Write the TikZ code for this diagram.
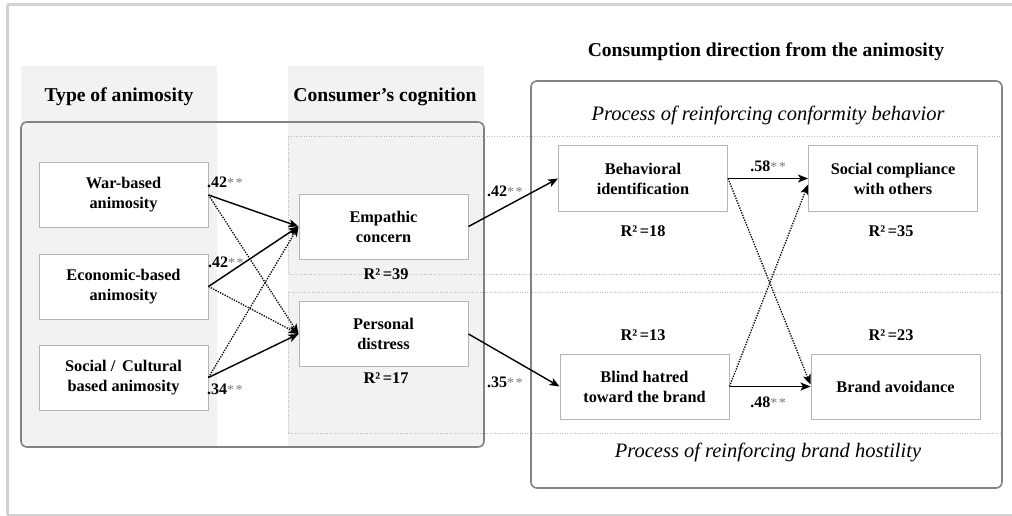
\documentclass[tikz,border=0pt]{standalone}
\usepackage{fontspec}
\setmainfont{Liberation Serif}
\usetikzlibrary{arrows.meta}
\definecolor{colbg}{HTML}{F2F2F2}
\definecolor{framegray}{HTML}{D2D2D2}
\definecolor{boxline}{HTML}{B4B4B4}
\definecolor{roundline}{HTML}{828282}
\definecolor{dotline}{HTML}{BBBBBB}
\definecolor{stargray}{HTML}{7A7A7A}
\newcommand\cf[1]{#1{\color{stargray}\mdseries\fontsize{14}{14}\selectfont *\kern1.5pt*}}
\begin{document}
\begin{tikzpicture}[x=1pt,y=-1pt,
  box/.style={draw=boxline, line width=1pt, fill=white, minimum width=169pt, minimum height=65pt,
    inner sep=0pt, align=center, font=\fontsize{16.3}{20}\selectfont\bfseries},
  ttl/.style={font=\fontsize{19.6}{22}\selectfont\bfseries, inner sep=0pt},
  proc/.style={font=\fontsize{20.5}{22}\selectfont\itshape, inner sep=0pt},
  rsq/.style={font=\fontsize{16.3}{19}\selectfont\bfseries, inner sep=0pt},
  coef/.style={font=\fontsize{16}{18}\selectfont\bfseries, inner sep=0pt},
  solidarr/.style={-{Stealth[length=10pt,width=8pt,inset=2.5pt]}, line width=1.4pt, black},
  dotarr/.style={-{Stealth[length=10pt,width=8pt,inset=2.5pt]}, line width=1.3pt, black, dash pattern=on 1.3pt off 1.3pt},
  dotrect/.style={draw=dotline, line width=1pt, dash pattern=on 1pt off 1.5pt},
  roundrect/.style={draw=roundline, line width=1.6pt, rounded corners=6pt}
]
\useasboundingbox (0,0) rectangle (1012,516);
% outer frame
\draw[framegray, line width=3pt] (7,5) -- (1016,5);
\draw[framegray, line width=3pt] (7,5) -- (7,515);
\draw[framegray, line width=1.5pt] (7,515) -- (1016,515);
% gray columns
\fill[colbg] (21,66) rectangle (217,447);
\fill[colbg] (288,66) rectangle (484,447);
% dotted rectangles
\draw[dotrect] (288,137) rectangle (1002,274);
\draw[dotrect] (288,292) rectangle (1002,433);
% rounded rectangles
\draw[roundrect] (21,122) rectangle (484,447);
\draw[roundrect] (531,81) rectangle (1002,488);
% titles
\node[ttl] (t1) at (119,97) {Type of animosity};
\node[ttl] (t2) at (385,97) {Consumer’s cognition};
\node[ttl] (t3) at (766,52) {Consumption direction from the animosity};
\node[proc] (p1) at (768,115) {Process of reinforcing conformity behavior};
\node[proc] (p2) at (768,452) {Process of reinforcing brand hostility};
% boxes
\node[box] (war) at (123.5,195) {War-based\\animosity};
\node[box] (econ) at (123.5,286.5) {Economic-based\\animosity};
\node[box] (soc) at (123.5,377.5) {Social /\, Cultural\\based animosity};
\node[box] (emp) at (383.5,226.5) {Empathic\\concern};
\node[box] (pers) at (383.5,334) {Personal\\distress};
\node[box] (beh) at (643,178.5) {Behavioral\\identification};
\node[box] (comp) at (893,178.5) {Social compliance\\with others};
\node[box] (blind) at (644.5,386.5) {Blind hatred\\toward the brand};
\node[box] (avoid) at (895.5,386.5) {Brand avoidance};
% R squared
\node[rsq] (r1) at (386,274) {R²\,=39};
\node[rsq] (r2) at (386,378) {R²\,=17};
\node[rsq] (r3) at (643,231) {R²\,=18};
\node[rsq] (r4) at (891,231) {R²\,=35};
\node[rsq] (r5) at (643,335) {R²\,=13};
\node[rsq] (r6) at (891,335) {R²\,=23};
% arrows left
\draw[dotarr] (war.east) -- (pers.west);
\draw[dotarr] (econ.east) -- (pers.west);
\draw[dotarr] (soc.east) -- (emp.west);
\draw[solidarr] (war.east) -- (emp.west);
\draw[solidarr] (econ.east) -- (emp.west);
\draw[solidarr] (soc.east) -- (pers.west);
% arrows middle
\draw[solidarr] (emp.east) -- (beh.west);
\draw[solidarr] (pers.east) -- (blind.west);
% arrows right
\draw[dotarr] (beh.east) -- ([yshift=2pt]avoid.west);
\draw[dotarr] (blind.east) -- ([yshift=-6pt]comp.west);
\draw[solidarr] (beh.east) -- (comp.west);
\draw[solidarr] (blind.east) -- (avoid.west);
% coefficient labels
\node[coef, anchor=west] (c1) at (207,182) {\cf{.42}};
\node[coef, anchor=west] (c2) at (208,262) {\cf{.42}};
\node[coef, anchor=west] (c3) at (207,389) {\cf{.34}};
\node[coef, anchor=west] (c4) at (487,191) {\cf{.42}};
\node[coef, anchor=west] (c5) at (487,382) {\cf{.35}};
\node[coef] (c6) at (768,166) {\cf{.58}};
\node[coef] (c7) at (768,402) {\cf{.48}};
\end{tikzpicture}
\end{document}
